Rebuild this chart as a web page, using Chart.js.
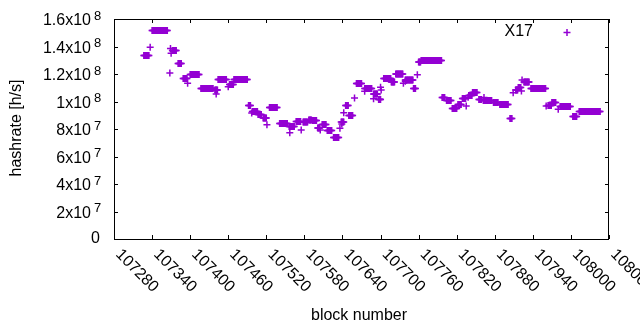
<!DOCTYPE html>
<html>
<head>
<meta charset="utf-8">
<script src="https://cdn.jsdelivr.net/npm/chart.js@4.4.1/dist/chart.umd.min.js"></script>
<style>
  html, body { margin: 0; padding: 0; background: #fff; }
</style>
</head>
<body>
<canvas id="myChart" width="640" height="330"></canvas>
<script>
// runs of blocks sharing the same hashrate (Mh/s)
var runFrom = [107327, 107340, 107372, 107381, 107389, 107400, 107417, 107439, 107444, 107462,
               107469, 107492, 107498, 107507, 107515, 107525, 107541, 107556, 107567, 107578,
               107587, 107593, 107601, 107608, 107616, 107626, 107638, 107645, 107650, 107662,
               107675, 107689, 107697, 107705, 107717, 107724, 107739, 107752, 107760, 107764,
               107797, 107804, 107813, 107822, 107829, 107839, 107845, 107855, 107862, 107878,
               107888, 107904, 107913, 107917, 107926, 107937, 107964, 107970, 107983, 108003,
               108013];
var runTo   = [107335, 107364, 107378, 107386, 107395, 107414, 107436, 107443, 107457, 107468,
               107490, 107495, 107506, 107512, 107520, 107537, 107553, 107564, 107574, 107585,
               107591, 107599, 107604, 107614, 107623, 107634, 107642, 107649, 107656, 107670,
               107686, 107695, 107700, 107716, 107722, 107735, 107751, 107755, 107763, 107796,
               107801, 107811, 107820, 107827, 107834, 107844, 107852, 107859, 107875, 107885,
               107901, 107907, 107916, 107921, 107934, 107960, 107969, 107976, 107999, 108009,
               108046];
var runRate = [133.5, 151.6, 137.1, 127.6, 116.7, 119.6, 109.5, 108.4, 116.0, 112.4,
               116.0, 97.1, 92.7, 90.5, 88.0, 95.6, 84.0, 81.8, 85.5, 85.1,
               86.5, 86.2, 80.7, 83.3, 78.9, 73.8, 85.1, 97.1, 89.8, 113.1,
               109.5, 105.5, 101.5, 116.7, 114.2, 120.0, 115.6, 109.5, 128.7, 129.8,
               102.9, 100.7, 94.9, 97.8, 102.2, 104.4, 106.5, 101.5, 100.7, 99.3,
               97.8, 87.6, 108.4, 110.2, 114.2, 109.5, 97.1, 99.3, 96.4, 89.1,
               92.7];

// lone blocks (Mh/s)
var soloBlock = [107337, 107368, 107369, 107370, 107396, 107441, 107460, 107497, 107521, 107557,
                 107575, 107605, 107636, 107639, 107642, 107659, 107675, 107689, 107699, 107700,
                 107701, 107736, 107739, 107758, 107835, 107838, 107863, 107909, 107922, 107923,
                 107961, 107980];
var soloRate  = [139.4, 120.7, 138.5, 135.1, 113.2, 105.5, 110.8, 91.6, 83.1, 77.3,
                 79.3, 79.3, 80.5, 83.6, 91.9, 102.5, 107.4, 102.0, 101.6, 110.3,
                 108.4, 113.2, 114.7, 119.5, 96.7, 103.1, 103.0, 106.4, 107.6, 115.6,
                 96.7, 94.3];

var xTicks = [107280, 107340, 107400, 107460, 107520, 107580, 107640, 107700,
              107760, 107820, 107880, 107940, 108000, 108060];
var yTicks = [0, 2e7, 4e7, 6e7, 8e7, 1e8, 1.2e8, 1.4e8, 1.6e8];

var seriesName = 'X17';
var color = '#9400d3';
var font = '"Liberation Sans", Arial, sans-serif';

var punkte = [];
for (var i = 0; i < runFrom.length; i++) {
  for (var b = runFrom[i]; b <= runTo[i]; b++) {
    punkte.push({ x: b, y: runRate[i] * 1e6 });
  }
}
for (var j = 0; j < soloBlock.length; j++) {
  punkte.push({ x: soloBlock[j], y: soloRate[j] * 1e6 });
}

function yLabel(v) {
  if (v === 0) return ['0', ''];
  var e = Math.floor(Math.log10(v) + 1e-9);
  var m = Math.round(v / Math.pow(10, e) * 10) / 10;
  return [m + 'x10', String(e)];
}

// gnuplot-like frame, ticks and labels
var gnuplotFrame = {
  id: 'gnuplotFrame',
  afterDraw: function(chart) {
    var ctx = chart.ctx;
    var a = chart.chartArea;
    var xs = chart.scales.x, ys = chart.scales.y;
    ctx.save();
    ctx.strokeStyle = '#000';
    ctx.lineWidth = 1;
    ctx.strokeRect(a.left + 0.5, a.top + 0.5, a.right - a.left - 1, a.bottom - a.top);

    ctx.beginPath();
    xTicks.forEach(function(v) {
      var px = Math.round(xs.getPixelForValue(v)) + 0.5;
      ctx.moveTo(px, a.bottom); ctx.lineTo(px, a.bottom - 4);
      ctx.moveTo(px, a.top); ctx.lineTo(px, a.top + 4);
    });
    yTicks.forEach(function(v) {
      var py = Math.round(ys.getPixelForValue(v)) + 0.5;
      ctx.moveTo(a.left, py); ctx.lineTo(a.left + 4, py);
      ctx.moveTo(a.right, py); ctx.lineTo(a.right - 4, py);
    });
    ctx.stroke();

    ctx.fillStyle = '#000';
    // y tick labels with superscript exponent
    yTicks.forEach(function(v) {
      var py = ys.getPixelForValue(v);
      var t = yLabel(v);
      ctx.font = '16px ' + font;
      ctx.textAlign = 'right';
      ctx.textBaseline = 'middle';
      if (t[1] === '') {
        ctx.fillText(t[0], 100, py);
      } else {
        ctx.fillText(t[0], 91, py + 2);
        ctx.font = '13px ' + font;
        ctx.textAlign = 'left';
        ctx.fillText(t[1], 94, py - 3);
      }
    });

    // x tick labels, rotated -45 like gnuplot
    ctx.font = '16px ' + font;
    ctx.textAlign = 'left';
    ctx.textBaseline = 'middle';
    xTicks.forEach(function(v) {
      var px = xs.getPixelForValue(v);
      ctx.save();
      ctx.translate(px + 4, 252);
      ctx.rotate(Math.PI / 4);
      ctx.fillText(String(v), 0, 0);
      ctx.restore();
    });

    // axis titles
    ctx.textAlign = 'center';
    ctx.fillText('block number', 359, 316);
    ctx.save();
    ctx.translate(17, 128);
    ctx.rotate(-Math.PI / 2);
    ctx.fillText('hashrate [h/s]', 0, 0);
    ctx.restore();

    // key
    ctx.textAlign = 'right';
    ctx.fillText(seriesName, 533, 32);
    ctx.strokeStyle = color;
    ctx.lineWidth = 1.5;
    ctx.beginPath();
    ctx.moveTo(563.5, 32.5); ctx.lineTo(570.5, 32.5);
    ctx.moveTo(567, 29); ctx.lineTo(567, 36);
    ctx.stroke();
    ctx.restore();
  }
};

var ctx = document.getElementById('myChart').getContext('2d');
var myChart = new Chart(ctx, {
  type: 'scatter',
  data: {
    datasets: [{
      label: seriesName,
      data: punkte,
      pointStyle: 'cross',
      pointRadius: 3.5,
      pointBorderWidth: 1.5,
      pointBorderColor: color,
      pointBackgroundColor: color
    }]
  },
  options: {
    responsive: false,
    animation: false,
    devicePixelRatio: 1,
    layout: { padding: { left: 0, right: 31, top: 19, bottom: 0 } },
    plugins: { legend: { display: false }, tooltip: { enabled: false } },
    events: [],
    scales: {
      x: {
        type: 'linear',
        min: 107280,
        max: 108060,
        grid: { display: false },
        border: { display: false },
        ticks: { display: false, stepSize: 60 },
        afterFit: function(s) { s.height = 91; }
      },
      y: {
        min: 0,
        max: 1.6e8,
        grid: { display: false },
        border: { display: false },
        ticks: { display: false, stepSize: 2e7 },
        afterFit: function(s) { s.width = 114; }
      }
    }
  },
  plugins: [gnuplotFrame]
});
</script>
</body>
</html>
